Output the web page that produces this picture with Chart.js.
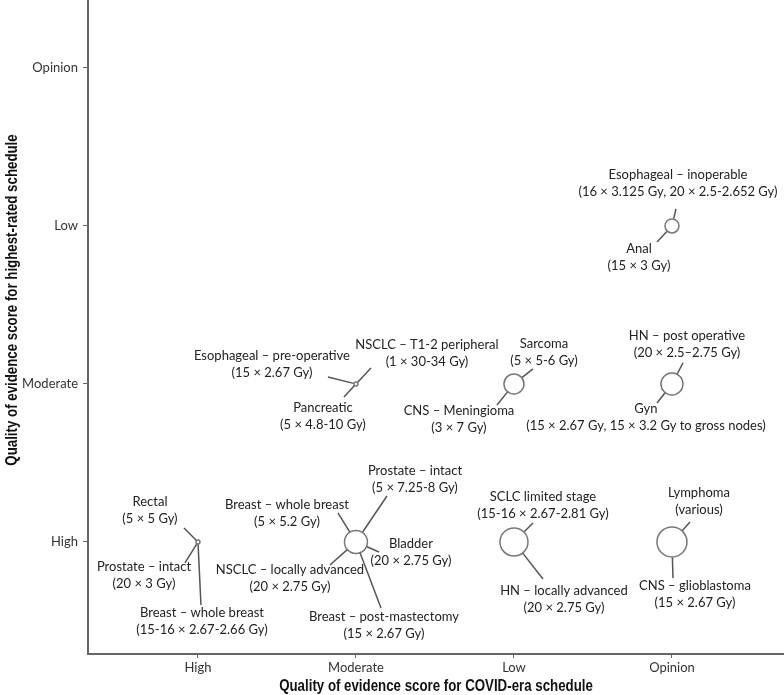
<!DOCTYPE html>
<html><head><meta charset="utf-8">
<script src="https://cdn.jsdelivr.net/npm/chart.js@4/dist/chart.umd.min.js"></script>
<style>html,body{margin:0;padding:0;background:#fff}#wrap{width:784px;height:695px;position:relative}</style>
</head><body><div id="wrap"><canvas id="c" width="784" height="695"></canvas></div>
<script>
// ---- data ----
const categories = ['High', 'Moderate', 'Low', 'Opinion'];
// one bubble per combination (index into categories)
const covidScore   = [0, 1, 1, 2, 2, 3, 3, 3];
const highestScore = [0, 0, 1, 1, 0, 1, 2, 0];
const bubbleRadius = [2, 11.5, 2, 10, 14, 11, 7, 15];

// disease sites and the bubble they belong to
const siteGroup = [0,0,0, 1,1,1,1,1, 2,2,2, 3,3, 4,4, 5,5, 6,6, 7,7];
const siteNames = [
  'Rectal', 'Prostate – intact', 'Breast – whole breast',
  'Breast – whole breast', 'NSCLC – locally advanced', 'Prostate – intact', 'Bladder', 'Breast – post-mastectomy',
  'Esophageal – pre-operative', 'NSCLC – T1-2 peripheral', 'Pancreatic',
  'Sarcoma', 'CNS – Meningioma',
  'SCLC limited stage', 'HN – locally advanced',
  'HN – post operative', 'Gyn',
  'Esophageal – inoperable', 'Anal',
  'Lymphoma', 'CNS – glioblastoma'
];
const schedules = [
  '(5 × 5 Gy)', '(20 × 3 Gy)', '(15-16 × 2.67-2.66 Gy)',
  '(5 × 5.2 Gy)', '(20 × 2.75 Gy)', '(5 × 7.25-8 Gy)', '(20 × 2.75 Gy)', '(15 × 2.67 Gy)',
  '(15 × 2.67 Gy)', '(1 × 30-34 Gy)', '(5 × 4.8-10 Gy)',
  '(5 × 5-6 Gy)', '(3 × 7 Gy)',
  '(15-16 × 2.67-2.81 Gy)', '(20 × 2.75 Gy)',
  '(20 × 2.5–2.75 Gy)', '(15 × 2.67 Gy, 15 × 3.2 Gy to gross nodes)',
  '(16 × 3.125 Gy, 20 × 2.5-2.652 Gy)', '(15 × 3 Gy)',
  '(various)', '(15 × 2.67 Gy)'
];
const xTitle = 'Quality of evidence score for COVID-era schedule';
const yTitle = 'Quality of evidence score for highest-rated schedule';

// ---- label placement (pixel offsets from bubble centre: text dx, text dy, segment end dx, dy) ----
const labelLayout = [
  [-48,-40,-14,-14], [-54,25,-13,21], [4,71,3,63],
  [-69,-37,-18,-29], [-66,28,-26,23], [59,-71,31,-46], [55,2,23,10], [28,75,25,66],
  [-84,-28,-28,-7], [71,-39,15,-16], [-33,24,-12,13],
  [30,-40,19,-15], [-55,27,-17,21],
  [29,-45,19,-19], [50,49,29,37],
  [15,-48,11,-21], [-26,25,-15,19],
  [6,-51,4,-17], [-33,23,-15,16],
  [27,-49,18,-20], [23,44,1,36]
];

const labelFont = '13px Lato, "Noto Sans", sans-serif';
const tickFamily = 'Lato, "Noto Sans", sans-serif';
const titleFont = 'bold 16px "Liberation Sans", Arial, sans-serif';
const titleSqueeze = 0.83;

const labelPlugin = {
  id: 'siteLabels',
  afterDatasetsDraw(chart) {
    const ctx = chart.ctx, xs = chart.scales.x, ys = chart.scales.y;
    ctx.save();
    siteGroup.forEach((g, i) => {
      const cx = xs.getPixelForValue(covidScore[g]);
      const cy = ys.getPixelForValue(highestScore[g]);
      const [tdx, tdy, ldx, ldy] = labelLayout[i];
      const len = Math.hypot(ldx, ldy);
      const r = bubbleRadius[g] + 0.5;
      ctx.beginPath();
      ctx.strokeStyle = '#555';
      ctx.lineWidth = 1.5;
      ctx.moveTo(cx + ldx / len * r, cy + ldy / len * r);
      ctx.lineTo(cx + ldx, cy + ldy);
      ctx.stroke();
      ctx.fillStyle = '#222';
      ctx.font = labelFont;
      ctx.textAlign = 'center';
      ctx.textBaseline = 'middle';
      ctx.fillText(siteNames[i], cx + tdx, cy + tdy);
      ctx.fillText(schedules[i], cx + tdx, cy + tdy + 17);
    });
    ctx.restore();
  },
  afterDraw(chart) {
    const ctx = chart.ctx, ca = chart.chartArea;
    ctx.save();
    ctx.fillStyle = '#111';
    ctx.font = titleFont;
    ctx.textAlign = 'center';
    ctx.textBaseline = 'middle';
    ctx.save();
    ctx.translate((ca.left + ca.right) / 2, 687);
    ctx.scale(titleSqueeze, 1);
    ctx.fillText(xTitle, 0, 0);
    ctx.restore();
    ctx.translate(13, 300);
    ctx.rotate(-Math.PI / 2);
    ctx.scale(titleSqueeze, 1);
    ctx.fillText(yTitle, 0, 0);
    ctx.restore();
  }
};

const axisCommon = {
  type: 'linear',
  afterBuildTicks: s => { s.ticks = categories.map((c, i) => ({ value: i })); },
  ticks: { callback: v => categories[v], color: '#333', font: { family: tickFamily, size: 13 }, autoSkip: false, maxRotation: 0 },
  grid: { drawOnChartArea: false, color: '#666', tickWidth: 1 },
  border: { display: true, color: '#666', width: 2 }
};

new Chart(document.getElementById('c'), {
  type: 'bubble',
  data: {
    datasets: [{
      data: covidScore.map((x, i) => ({ x: x, y: highestScore[i], r: bubbleRadius[i] })),
      backgroundColor: '#fff',
      borderColor: '#777',
      borderWidth: 1.5
    }]
  },
  options: {
    responsive: false, animation: false, devicePixelRatio: 1,
    layout: { padding: 0, autoPadding: false },
    plugins: { legend: { display: false }, tooltip: { enabled: false } },
    scales: {
      x: Object.assign({}, axisCommon, {
        min: -0.696, max: 3.709,
        ticks: Object.assign({}, axisCommon.ticks, { padding: 2 }),
        grid: Object.assign({}, axisCommon.grid, { tickLength: 4 }),
        afterFit: s => { s.height = 41; s.paddingLeft = 0; s.paddingRight = 0; }
      }),
      y: Object.assign({}, axisCommon, {
        min: -0.709, max: 3.430,
        ticks: Object.assign({}, axisCommon.ticks, { padding: 5 }),
        grid: Object.assign({}, axisCommon.grid, { tickLength: 5 }),
        afterFit: s => { s.width = 88; s.paddingTop = 0; s.paddingBottom = 0; }
      })
    }
  },
  plugins: [labelPlugin]
});
</script></body></html>
